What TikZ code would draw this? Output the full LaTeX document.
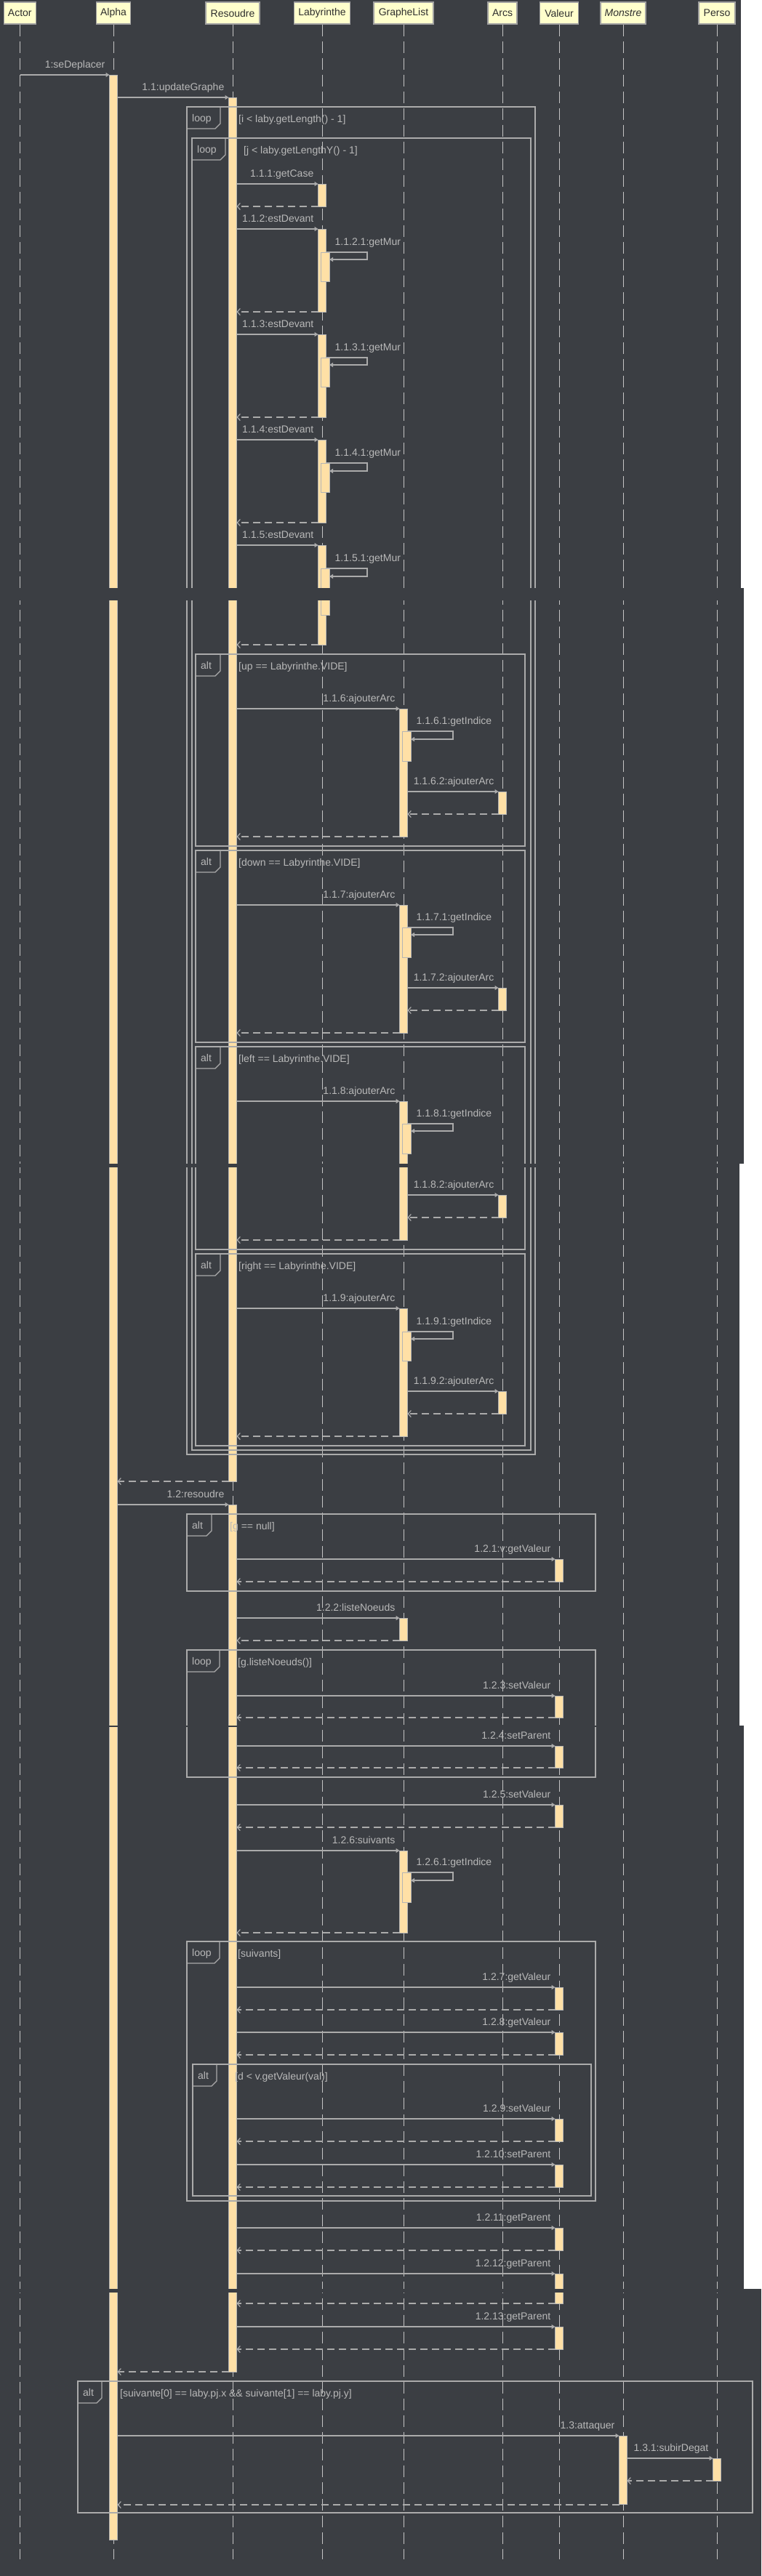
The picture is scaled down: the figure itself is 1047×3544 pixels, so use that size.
\documentclass[tikz,border=0pt]{standalone}
\usepackage{fontspec}
\setmainfont{Liberation Sans}
\usetikzlibrary{arrows.meta}
\definecolor{bgc}{HTML}{3B3E43}
\definecolor{lnc}{HTML}{ABABAB}
\definecolor{lifec}{HTML}{C4C4C4}
\definecolor{txc}{HTML}{B9B9B9}
\definecolor{actf}{HTML}{FFE0A6}
\definecolor{actd}{HTML}{B5B5B5}
\definecolor{hdf}{HTML}{FFFFCC}
\definecolor{hdd}{HTML}{A0A0A0}
\definecolor{hdt}{HTML}{2E2E2E}
\pgfdeclarelayer{bg}\pgfdeclarelayer{bars}\pgfdeclarelayer{frames}\pgfdeclarelayer{top}
\pgfsetlayers{bg,main,bars,frames,top}
\tikzset{
 lbl/.style={font=\fontsize{14}{16}\selectfont, text=txc, inner sep=0pt},
 callarr/.style={draw=lnc, line width=1.2pt, -{Triangle[length=5pt,width=6pt]}},
 retarr/.style={draw=lnc, line width=1.2pt, dash pattern=on 10pt off 6pt, -{Straight Barb[length=4pt,width=9pt]}},
 lifeln/.style={draw=lifec, line width=1pt, dash pattern=on 16pt off 7pt},
 actst/.style={fill=actf, draw=actd, line width=1pt},
 frm/.style={draw=lnc, line width=1.2pt},
 headbox/.style={draw=hdd, fill=hdf, line width=1.2pt, font=\fontsize{14}{16}\selectfont, text=hdt, minimum height=30pt, inner sep=1pt},
}
% id, x1, x2, y, text
\newcommand\msgcall[5]{%
  \coordinate (#1s) at (#2,#4);
  \coordinate (#1e) at (#3,#4);
  \draw[callarr] (#1s) -- (#1e);
  \node[lbl, anchor=base east] (#1t) at ([xshift=-6pt,yshift=10pt]#1e) {#5};
}
% id, xfrom, xto, y
\newcommand\msgret[4]{%
  \coordinate (#1s) at (#2,#4);
  \coordinate (#1e) at (#3,#4);
  \draw[retarr] (#1s) -- (#1e);
}
% id, lx, ytop, ybot, farx, text
\newcommand\selfmsg[6]{%
  \coordinate (#1s) at (#2+5.5,#3);
  \coordinate (#1a) at (#5,#3);
  \coordinate (#1b) at (#5,#4);
  \coordinate (#1e) at (#2+10,#4);
  \draw[callarr] (#1s) -- (#1a) -- (#1b) -- (#1e);
  \node[lbl, anchor=base west] (#1t) at ([xshift=12pt,yshift=10pt]#1s) {#6};
}
% lx, y1, y2
\newcommand\actbar[3]{\begin{pgfonlayer}{bars}\draw[actst] (#1-5.5,#2) rectangle (#1+5.5,#3);\end{pgfonlayer}}
\newcommand\nestbar[3]{\begin{pgfonlayer}{bars}\draw[actst] (#1-2,#2) rectangle (#1+10,#3);\end{pgfonlayer}}
% id, x1, y1, x2, y2, tabright, kind, cond
\newcommand\sdframe[8]{%
  \begin{pgfonlayer}{frames}
  \draw[frm] (#2,#3) rectangle (#4,#5);
  \draw[frm] (#2,#3+30) -- (#6-7,#3+30) -- (#6,#3+23) -- (#6,#3);
  \node[lbl, anchor=base west] (#1k) at (#2+7,#3+20) {#7};
  \node[lbl, anchor=base west] (#1c) at (#6+25,#3+21) {#8};
  \end{pgfonlayer}
}
\begin{document}
\begin{tikzpicture}[x=1pt,y=-1pt]
\useasboundingbox (0,0) rectangle (1047,3544);
\begin{pgfonlayer}{bg}
\fill[bgc] (0,0) rectangle (1047,3544);
\end{pgfonlayer}

% heads
\begin{pgfonlayer}{top}
\node[headbox, minimum width=44pt] (hAct) at (27.3,18) {Actor};
\node[headbox, minimum width=47pt] (hAlp) at (156,18) {Alpha};
\node[headbox, minimum width=74pt] (hRes) at (320,18) {Resoudre};
\node[headbox, minimum width=77pt] (hLab) at (443,18) {Labyrinthe};
\node[headbox, minimum width=82pt] (hGra) at (555,18) {GrapheList};
\node[headbox, minimum width=40pt] (hArc) at (691,18) {Arcs};
\node[headbox, minimum width=53pt] (hVal) at (769,18) {Valeur};
\node[headbox, minimum width=62pt] (hMon) at (857,18) {\itshape Monstre};
\node[headbox, minimum width=50pt] (hPer) at (986,18) {Perso};
\end{pgfonlayer}
\coordinate (lifeEnd) at (0,3521);
\begin{pgfonlayer}{bg}
\foreach \h in {hAct,hAlp,hRes,hLab,hGra,hArc,hVal,hMon,hPer}
  \draw[lifeln] (\h.south) -- (\h.south |- lifeEnd);
\end{pgfonlayer}

% activations (main)
\actbar{156}{103}{3494}
\actbar{320}{134}{2038}

\msgcall{m1}{28}{150.5}{103}{1:seDeplacer}
\msgcall{m2}{161.5}{314.5}{134}{1.1:updateGraphe}

\sdframe{f1}{257}{147}{736}{2001}{303}{loop}{[i < laby.getLength() - 1]}
\sdframe{f2}{264}{190}{730}{1995}{310}{loop}{[j < laby.getLengthY() - 1]}

\msgcall{m3}{325.5}{437.5}{253}{1.1.1:getCase}
\actbar{443}{253}{284}
\msgret{r3}{437.5}{325.5}{284}

% estDevant 1.1.2
\msgcall{m4}{325.5}{437.5}{315}{1.1.2:estDevant}
\actbar{443}{315}{429}
\nestbar{443}{347}{387}
\selfmsg{s4}{443}{347}{357}{505}{1.1.2.1:getMur}
\msgret{r4}{437.5}{325.5}{429}
% 1.1.3
\msgcall{m5}{325.5}{437.5}{460}{1.1.3:estDevant}
\actbar{443}{460}{574}
\nestbar{443}{492}{532}
\selfmsg{s5}{443}{492}{502}{505}{1.1.3.1:getMur}
\msgret{r5}{437.5}{325.5}{574}
% 1.1.4
\msgcall{m6}{325.5}{437.5}{605}{1.1.4:estDevant}
\actbar{443}{605}{719}
\nestbar{443}{637}{677}
\selfmsg{s6}{443}{637}{648}{505}{1.1.4.1:getMur}
\msgret{r6}{437.5}{325.5}{719}
% 1.1.5
\msgcall{m7}{325.5}{437.5}{750}{1.1.5:estDevant}
\actbar{443}{750}{887}
\nestbar{443}{782}{846}
\selfmsg{s7}{443}{782}{793}{505}{1.1.5.1:getMur}
\msgret{r7}{437.5}{325.5}{887}

% alt up
\sdframe{f3}{269}{900}{722}{1164}{303}{alt}{[up == Labyrinthe.VIDE]}
\msgcall{m8}{325.5}{549.5}{975}{1.1.6:ajouterArc}
\actbar{555}{975}{1151}
\nestbar{555}{1006}{1047}
\selfmsg{s8}{555}{1006}{1017}{623}{1.1.6.1:getIndice}
\msgcall{m8b}{560.5}{685.5}{1089}{1.1.6.2:ajouterArc}
\actbar{691}{1089}{1120}
\msgret{r8b}{685.5}{560.5}{1120}
\msgret{r8}{549.5}{325.5}{1151}

% alt down
\sdframe{f4}{269}{1170}{722}{1434}{303}{alt}{[down == Labyrinthe.VIDE]}
\msgcall{m9}{325.5}{549.5}{1245}{1.1.7:ajouterArc}
\actbar{555}{1245}{1421}
\nestbar{555}{1276}{1317}
\selfmsg{s9}{555}{1276}{1286}{623}{1.1.7.1:getIndice}
\msgcall{m9b}{560.5}{685.5}{1359}{1.1.7.2:ajouterArc}
\actbar{691}{1359}{1390}
\msgret{r9b}{685.5}{560.5}{1390}
\msgret{r9}{549.5}{325.5}{1421}

% alt left
\sdframe{f5}{269}{1440}{722}{1719}{303}{alt}{[left == Labyrinthe.VIDE]}
\msgcall{m10}{325.5}{549.5}{1515}{1.1.8:ajouterArc}
\actbar{555}{1515}{1706}
\nestbar{555}{1546}{1587}
\selfmsg{s10}{555}{1546}{1556}{623}{1.1.8.1:getIndice}
\msgcall{m10b}{560.5}{685.5}{1644}{1.1.8.2:ajouterArc}
\actbar{691}{1644}{1675}
\msgret{r10b}{685.5}{560.5}{1675}
\msgret{r10}{549.5}{325.5}{1706}

% alt right
\sdframe{f6}{269}{1725}{722}{1989}{303}{alt}{[right == Labyrinthe.VIDE]}
\msgcall{m11}{325.5}{549.5}{1800}{1.1.9:ajouterArc}
\actbar{555}{1800}{1976}
\nestbar{555}{1832}{1872}
\selfmsg{s11}{555}{1832}{1842}{623}{1.1.9.1:getIndice}
\msgcall{m11b}{560.5}{685.5}{1914}{1.1.9.2:ajouterArc}
\actbar{691}{1914}{1945}
\msgret{r11b}{685.5}{560.5}{1945}
\msgret{r11}{549.5}{325.5}{1976}

\msgret{r2}{314.5}{161.5}{2038}

% resoudre
\msgcall{m12}{161.5}{314.5}{2070}{1.2:resoudre}
\actbar{320}{2070}{3263}

\sdframe{f7}{257}{2083}{819}{2189}{291}{alt}{[g == null]}
\msgcall{m13}{325.5}{763.5}{2145}{1.2.1:v:getValeur}
\actbar{769}{2145}{2176}
\msgret{r13}{763.5}{325.5}{2176}

\msgcall{m14}{325.5}{549.5}{2226}{1.2.2:listeNoeuds}
\actbar{555}{2226}{2257}
\msgret{r14}{549.5}{325.5}{2257}

\sdframe{f8}{257}{2270}{819}{2445}{302}{loop}{[g.listeNoeuds()]}
\msgcall{m15}{325.5}{763.5}{2333}{1.2.3:setValeur}
\actbar{769}{2333}{2363}
\msgret{r15}{763.5}{325.5}{2363}
\msgcall{m16}{325.5}{763.5}{2402}{1.2.4:setParent}
\actbar{769}{2402}{2432}
\msgret{r16}{763.5}{325.5}{2432}

\msgcall{m17}{325.5}{763.5}{2483}{1.2.5:setValeur}
\actbar{769}{2483}{2514}
\msgret{r17}{763.5}{325.5}{2514}

\msgcall{m18}{325.5}{549.5}{2546}{1.2.6:suivants}
\actbar{555}{2546}{2659}
\nestbar{555}{2576}{2617}
\selfmsg{s18}{555}{2576}{2587}{623}{1.2.6.1:getIndice}
\msgret{r18}{549.5}{325.5}{2659}

\sdframe{f9}{257}{2671}{819}{3028}{302}{loop}{[suivants]}
\msgcall{m19}{325.5}{763.5}{2734}{1.2.7:getValeur}
\actbar{769}{2734}{2765}
\msgret{r19}{763.5}{325.5}{2765}
\msgcall{m20}{325.5}{763.5}{2796}{1.2.8:getValeur}
\actbar{769}{2796}{2827}
\msgret{r20}{763.5}{325.5}{2827}

\sdframe{f10}{265}{2840}{813}{3021}{298}{alt}{[d < v.getValeur(val)]}
\msgcall{m21}{325.5}{763.5}{2915}{1.2.9:setValeur}
\actbar{769}{2915}{2946}
\msgret{r21}{763.5}{325.5}{2946}
\msgcall{m22}{325.5}{763.5}{2978}{1.2.10:setParent}
\actbar{769}{2978}{3009}
\msgret{r22}{763.5}{325.5}{3009}

\msgcall{m23}{325.5}{763.5}{3065}{1.2.11:getParent}
\actbar{769}{3065}{3096}
\msgret{r23}{763.5}{325.5}{3096}
\msgcall{m24}{325.5}{763.5}{3128}{1.2.12:getParent}
\actbar{769}{3128}{3169}
\msgret{r24}{763.5}{325.5}{3169}
\msgcall{m25}{325.5}{763.5}{3201}{1.2.13:getParent}
\actbar{769}{3201}{3232}
\msgret{r25}{763.5}{325.5}{3232}

\msgret{r12}{314.5}{161.5}{3263}

% final alt
\sdframe{f11}{107}{3276}{1035}{3457}{140}{alt}{[suivante[0] == laby.pj.x \&\& suivante[1] == laby.pj.y]}
\msgcall{m26}{161.5}{851.5}{3351}{1.3:attaquer}
\actbar{857}{3351}{3445}
\msgcall{m27}{862.5}{980.5}{3382}{1.3.1:subirDegat}
\actbar{986}{3382}{3413}
\msgret{r27}{980.5}{862.5}{3413}
\msgret{r26}{851.5}{161.5}{3446}

% screenshot seams and right strip
\begin{pgfonlayer}{top}
\fill[bgc] (0,809) rectangle (1023,826);
\fill[bgc] (0,1601) rectangle (1023,1606);
\fill[bgc] (0,2374) rectangle (1023,2376);
\fill[bgc] (0,3149) rectangle (1047,3154);
\fill[white] (1019,0) rectangle (1047,809);
\fill[white] (1023,809) rectangle (1047,1601);
\fill[white] (1017,1601) rectangle (1047,2374);
\fill[white] (1023,2374) rectangle (1047,3149);
\end{pgfonlayer}
\end{tikzpicture}
\end{document}
